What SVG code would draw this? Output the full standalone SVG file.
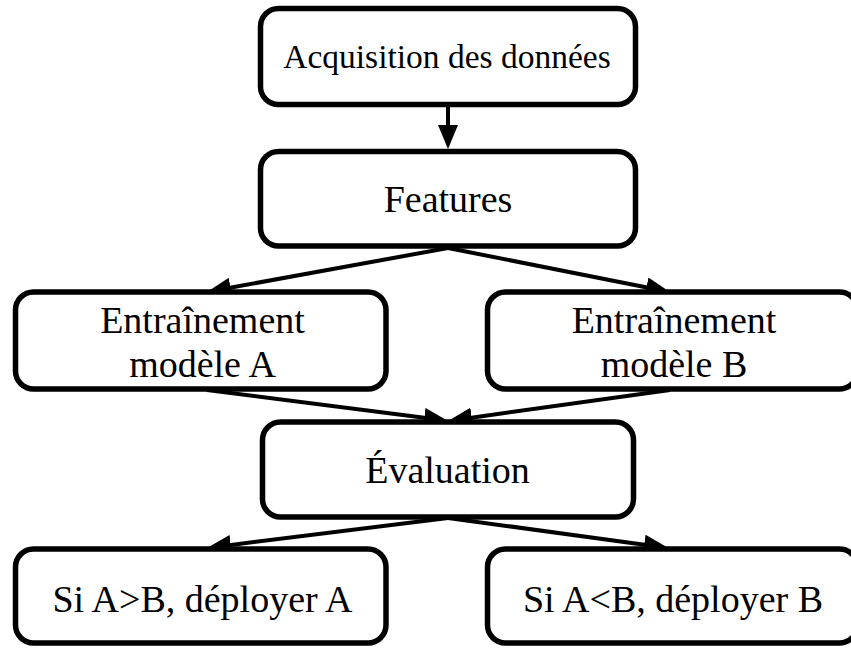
<svg xmlns="http://www.w3.org/2000/svg" width="851" height="648" viewBox="0 0 851 648">
<style>
.box{fill:#fff;stroke:#000;stroke-width:5.5}
.lbl{font-family:"Liberation Serif","Times New Roman",serif;font-size:38px;fill:#000;text-anchor:middle}
.edge{stroke:#000;stroke-width:4;fill:none;marker-end:url(#ah)}
</style>
<defs>
<marker id="ah" markerUnits="userSpaceOnUse" markerWidth="26" markerHeight="20" viewBox="0 0 26 20" refX="2" refY="10" orient="auto">
<path d="M0,0 L24,10 L0,20 z" fill="#000"/>
</marker>
</defs>
<rect width="851" height="648" fill="#fff"/>
<g id="connectors">
<line class="edge" x1="448" y1="107" x2="448" y2="127"/>
<line class="edge" x1="448" y1="248" x2="228.6" y2="288"/>
<line class="edge" x1="448" y1="248" x2="648.4" y2="287.7"/>
<line class="edge" x1="207" y1="390" x2="426.2" y2="418.1"/>
<line class="edge" x1="670" y1="390" x2="469.8" y2="417.9"/>
<line class="edge" x1="448" y1="518" x2="228.8" y2="545.2"/>
<line class="edge" x1="448" y1="518" x2="646.2" y2="544.9"/>
</g>
<g id="n1"><rect class="box" x="260.5" y="8.5" width="375" height="96" rx="18"/><text class="lbl" x="447" y="68" style="font-size:33.5px">Acquisition des données</text></g>
<g id="n2"><rect class="box" x="260.5" y="151.5" width="375" height="94.5" rx="18"/><text class="lbl" x="448" y="212">Features</text></g>
<g id="n3"><rect class="box" x="15.5" y="292" width="370.5" height="97" rx="18"/><text class="lbl" x="202.5" y="333">Entraînement</text><text class="lbl" x="202.5" y="377">modèle A</text></g>
<g id="n4"><rect class="box" x="487.5" y="292" width="370" height="97" rx="18"/><text class="lbl" x="674" y="333">Entraînement</text><text class="lbl" x="674" y="377">modèle B</text></g>
<g id="n5"><rect class="box" x="262.5" y="422" width="371" height="95" rx="18"/><text class="lbl" x="447.5" y="483">Évaluation</text></g>
<g id="n6"><rect class="box" x="15.5" y="549" width="370.5" height="94" rx="18"/><text class="lbl" x="202.5" y="612">Si A&gt;B, déployer A</text></g>
<g id="n7"><rect class="box" x="487.5" y="549" width="370" height="94" rx="18"/><text class="lbl" x="673" y="612">Si A&lt;B, déployer B</text></g>
</svg>
